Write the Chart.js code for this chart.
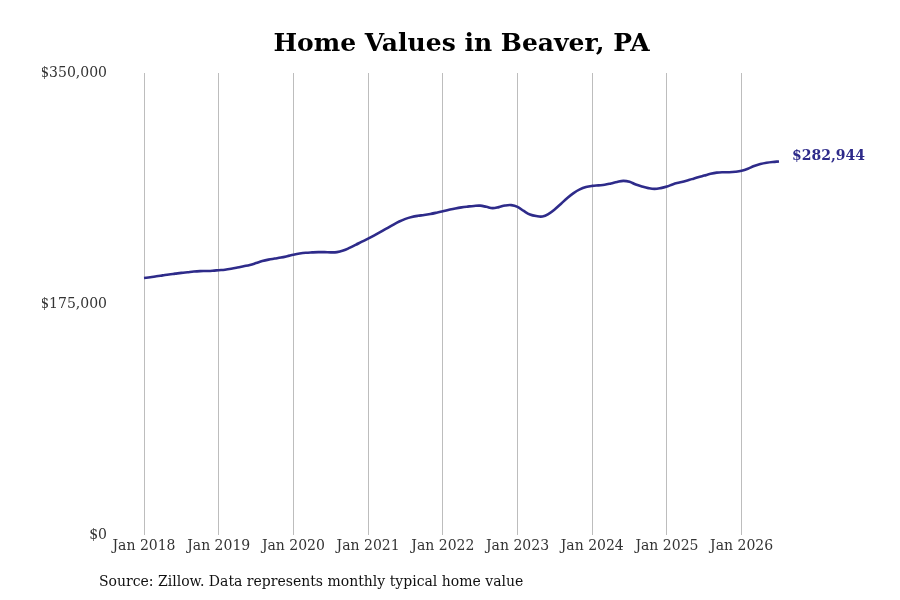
<!DOCTYPE html>
<html>
<head>
<meta charset="utf-8">
<style>
  html, body { margin: 0; padding: 0; background: #fff; }
  #wrap { width: 900px; height: 600px; position: relative; }
</style>
<script src="https://cdn.jsdelivr.net/npm/chart.js@4.4.1/dist/chart.umd.min.js"></script>
</head>
<body>
<div id="wrap"><canvas id="c" width="900" height="600"></canvas></div>
<script>
const TITLE = "Home Values in Beaver, PA";
const SOURCE = "Source: Zillow. Data represents monthly typical home value";
const years = [2018, 2019, 2020, 2021, 2022, 2023, 2024, 2025, 2026];
const monthsInLastYear = 7;
const yTicks = [0, 175000, 350000];
const values = [
  // 2018
  194700, 195200, 196000, 196700, 197400, 198000, 198600, 199100, 199600, 199900, 200000, 200200,
  // 2019
  200600, 201000, 201700, 202600, 203600, 204600, 206000, 207500, 208600, 209400, 210200, 211200,
  // 2020
  212300, 213200, 213800, 214100, 214300, 214300, 214100, 214300, 215500, 217500, 219800, 222200,
  // 2021
  224500, 227000, 229600, 232300, 235000, 237500, 239500, 240900, 241800, 242400, 243200, 244200,
  // 2022
  245300, 246400, 247400, 248200, 248800, 249300, 249500, 248600, 247600, 248400, 249600, 249900,
  // 2023
  248600, 245500, 242800, 241600, 241300, 243300, 246800, 251000, 255300, 259000, 261800, 263600,
  // 2024
  264500, 264900, 265300, 266300, 267500, 268300, 267600, 265500, 264000, 262800, 262200, 262800,
  // 2025
  264000, 265800, 267000, 268200, 269600, 271000, 272300, 273600, 274500, 274800, 274800, 275200,
  // 2026
  276000, 277500, 279500, 281000, 282000, 282600, 282944
];
const lineColor = "#2e2b8a";

const labels = [];
years.forEach((yr, i) => {
  const n = (i === years.length - 1) ? monthsInLastYear : 12;
  for (let m = 0; m < n; m++) labels.push(yr + "-" + String(m + 1).padStart(2, "0"));
});

const FONT = "'DejaVu Serif', serif";

const extras = {
  id: "extras",
  afterDraw(chart) {
    const ctx = chart.ctx;
    const ca = chart.chartArea;
    ctx.save();
    // title
    ctx.fillStyle = "#000";
    ctx.font = "bold 25px " + FONT;
    ctx.textAlign = "center";
    ctx.textBaseline = "middle";
    ctx.fillText(TITLE, (ca.left + ca.right) / 2, 44);
    // source
    ctx.font = "14px " + FONT;
    ctx.textAlign = "left";
    ctx.fillStyle = "#111";
    ctx.fillText(SOURCE, 99, 582);
    // end label
    const meta = chart.getDatasetMeta(0);
    const last = meta.data[meta.data.length - 1];
    const v = values[values.length - 1];
    ctx.font = "bold 14px " + FONT;
    ctx.fillStyle = lineColor;
    ctx.fillText("$" + v.toLocaleString("en-US"), last.x + 13, last.y - 5);
    ctx.restore();
  }
};

new Chart(document.getElementById("c"), {
  type: "line",
  data: {
    labels: labels,
    datasets: [{
      data: values,
      borderColor: lineColor,
      borderWidth: 2.6,
      pointRadius: 0,
      tension: 0.4,
      fill: false
    }]
  },
  options: {
    responsive: false,
    animation: false,
    layout: { padding: { left: 42, right: 121, top: 73, bottom: 45 } },
    plugins: { legend: { display: false }, title: { display: false }, tooltip: { enabled: false } },
    scales: {
      x: {
        type: "category",
        offset: false,
        border: { display: false },
        grid: {
          drawTicks: false,
          color: (c) => (c.tick && labels[c.tick.value] && labels[c.tick.value].endsWith("-01")) ? "#bdbdbd" : "rgba(0,0,0,0)",
          lineWidth: 1
        },
        ticks: {
          autoSkip: false,
          maxRotation: 0,
          padding: 3,
          color: "#333",
          font: { family: FONT, size: 14 },
          callback: function(val, idx) {
            const l = labels[idx];
            return l.endsWith("-01") ? "Jan " + l.slice(0, 4) : "";
          }
        },
        afterFit(scale) { scale.height = 20; }
      },
      y: {
        min: 0,
        max: 350000,
        border: { display: false },
        grid: { display: false, drawTicks: false },
        afterBuildTicks(scale) { scale.ticks = yTicks.map(v => ({ value: v })); },
        ticks: {
          padding: 37,
          color: "#333",
          font: { family: FONT, size: 14 },
          callback: (v) => "$" + Number(v).toLocaleString("en-US")
        },
        afterFit(scale) { scale.width = 102; }
      }
    }
  },
  plugins: [extras]
});
</script>
</body>
</html>
